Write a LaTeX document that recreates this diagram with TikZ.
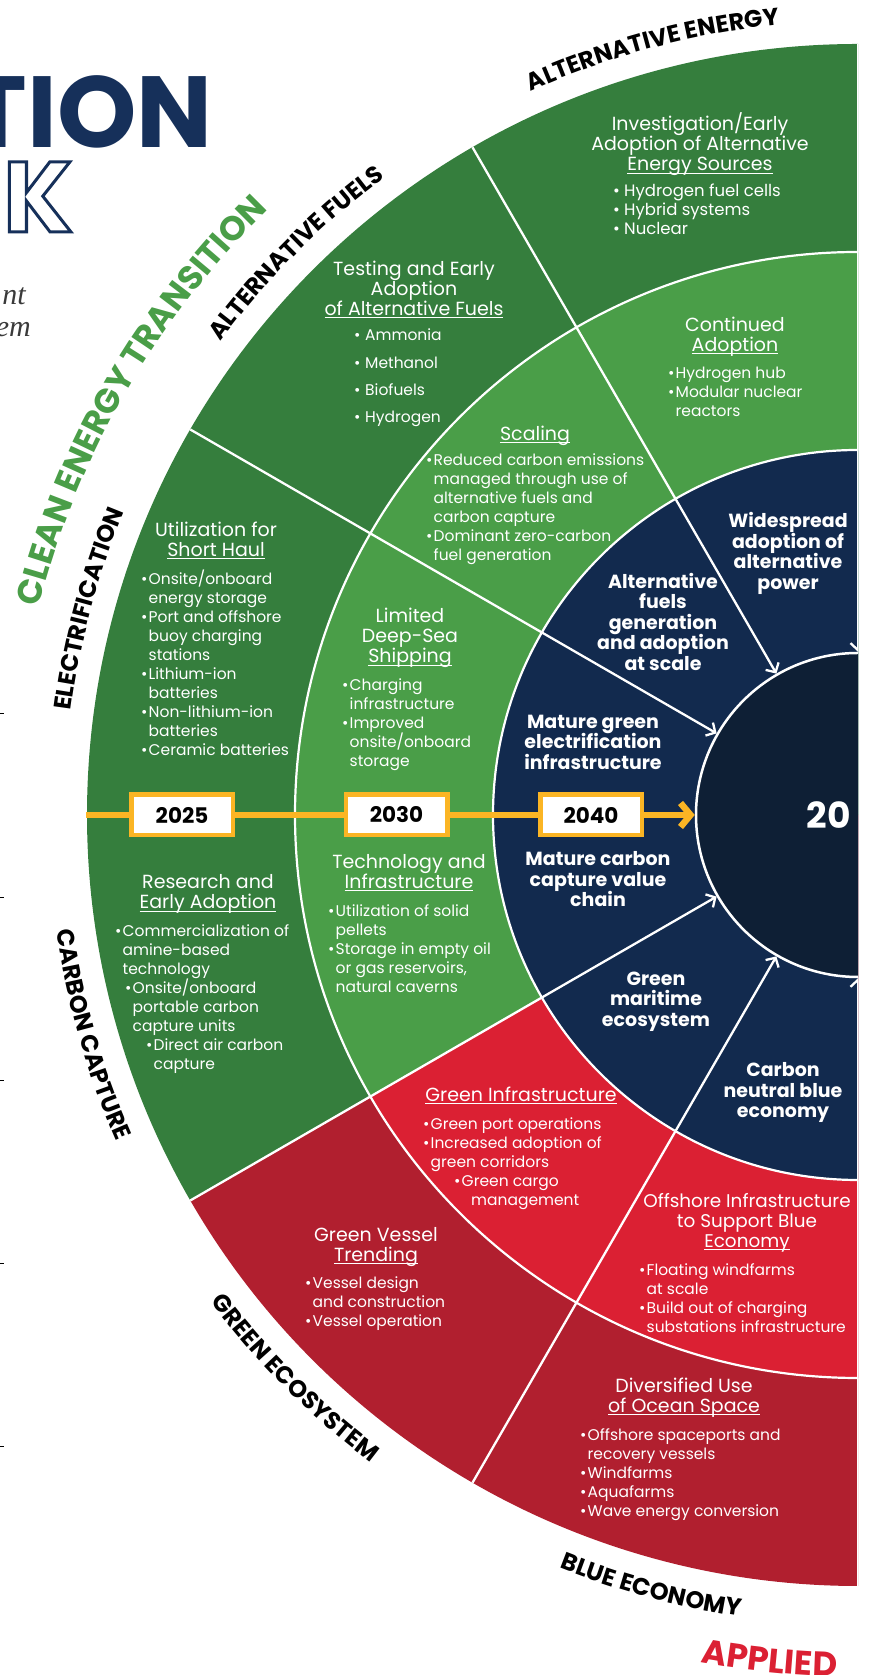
\documentclass[tikz,border=0pt]{standalone}
\usepackage{fontspec}
\setmainfont{Poppins}
\newfontfamily\serifit{Liberation Serif}
\usetikzlibrary{decorations.text,arrows.meta}
\definecolor{dkgreen}{HTML}{357E3D}
\definecolor{ltgreen}{HTML}{4A9E48}
\definecolor{navy}{HTML}{122A4E}
\definecolor{corenavy}{HTML}{0E1F35}
\definecolor{dkred}{HTML}{B11F2F}
\definecolor{brred}{HTML}{DB2033}
\definecolor{amber}{HTML}{FBB524}
\definecolor{titlenavy}{HTML}{16305A}
\definecolor{cleangreen}{HTML}{4A9E48}
\definecolor{subgray}{HTML}{3A3A3A}
\newcommand\uln[1]{\setbox0=\hbox{#1}\rlap{\rule[-3pt]{\wd0}{0.9pt}}\box0}
\newcommand\bul[1]{\makebox[7.5pt][l]{\textbullet}#1}
\newcommand\bulw[1]{\makebox[11pt][l]{\textbullet}#1}
\newcommand\ind{\hspace*{7.5pt}}
\newcommand\seclabfont{\color{black}\bfseries\fontsize{24}{28}\selectfont}
\newcommand\cleanfont{\color{cleangreen}\bfseries\fontsize{34}{38}\selectfont}
\newcommand\appliedfont{\color{brred}\bfseries\fontsize{34}{38}\selectfont}
\tikzset{
  ringsep/.style={white, line width=2.2pt},
  spoke/.style={white, line width=2.3pt, -{Straight Barb[length=7pt,width=15pt]}},
  tline/.style={amber, line width=6.5pt, -{Straight Barb[length=10pt,width=24pt]}},
  corecircle/.style={circle, fill=corenavy, draw=white, line width=2.5pt, minimum size=324pt, inner sep=0pt},
  yearbox/.style={draw=amber, line width=4.5pt, fill=white, minimum width=101.5pt, minimum height=40.5pt, inner sep=0pt, font=\bfseries\fontsize{21.5}{24}\selectfont, text=black},
  sectitle/.style={font=\fontsize{19}{20}\selectfont, text=white, align=center, inner sep=0pt, execute at begin node=\strut, execute at end node=\strut},
  seclist/.style={font=\fontsize{15.5}{19}\selectfont, text=white, align=left, inner sep=0pt, anchor=west, execute at begin node=\strut, execute at end node=\strut},
  goalbold/.style={font=\bfseries\fontsize{19}{20.5}\selectfont, text=white, align=center, inner sep=0pt, execute at begin node=\strut, execute at end node=\strut},
  arclabel/.style={decorate, decoration={text along path, text align=center, text={|\seclabfont|#1}}}
}
\begin{document}
\begin{tikzpicture}[x=1pt,y=1pt]
\useasboundingbox (0,0) rectangle (869,1675);
\begin{scope}
\clip (0,0) rectangle (858,1675);
% ---------- rings (centre at pixel 858,815) ----------
\begin{scope}[shift={(858,860)}]
  \fill[dkgreen] (0,0) -- (90:771) arc[start angle=90,end angle=210,radius=771] -- cycle;
  \fill[dkred] (0,0) -- (210:771) arc[start angle=210,end angle=270,radius=771] -- cycle;
  \fill[ltgreen] (0,0) -- (90:563) arc[start angle=90,end angle=210,radius=563] -- cycle;
  \fill[brred] (0,0) -- (210:563) arc[start angle=210,end angle=270,radius=563] -- cycle;
  \fill[navy] (0,0) -- (90:365) arc[start angle=90,end angle=270,radius=365] -- cycle;
  \draw[ringsep] (90:563) arc[start angle=90,end angle=270,radius=563];
  \draw[ringsep] (90:365) arc[start angle=90,end angle=270,radius=365];
  \node[corecircle] (core) at (0,0) {};
  \node[anchor=east, inner sep=0pt, text=white, font=\bfseries\fontsize{36}{40}\selectfont] (goalyear) at (-7,0) {20};
  \foreach \a in {90,120,150,210,240,270}{
    \coordinate (o\a) at (\a:771);
    \draw[spoke] (o\a) -- (core.\a);
  }
  \coordinate (t0) at (-772,0);
  \draw[tline] (t0) -- (core.west);
  % curved labels
  \path[arclabel={ALTERNATIVE ENERGY}] (130:794) arc[start angle=130,end angle=80,radius=794];
  \path[arclabel={ALTERNATIVE FUELS}] (160:794) arc[start angle=160,end angle=110,radius=794];
  \path[arclabel={ELECTRIFICATION}] (190:794) arc[start angle=190,end angle=140,radius=794];
  \path[arclabel={CARBON CAPTURE}] (171:810) arc[start angle=171,end angle=221,radius=810];
  \path[arclabel={GREEN ECOSYSTEM}] (200:810) arc[start angle=200,end angle=250,radius=810];
  \path[arclabel={BLUE ECONOMY}] (230:810) arc[start angle=230,end angle=280,radius=810];
  \path[decorate, decoration={text along path, text align=center, text={|\cleanfont|CLEAN ENERGY TRANSITION}}] (190:845) arc[start angle=190,end angle=110,radius=845];
  \path[decorate, decoration={text along path, text align=left, text={|\appliedfont|APPLIED}}] (259.5:862) arc[start angle=259.5,end angle=295,radius=862];
\end{scope}
% ---------- pixel frame (y down) ----------
\begin{scope}[shift={(0,1675)},yscale=-1]
  \node[yearbox] (y2025) at (182,815) {2025};
  \node[yearbox] (y2030) at (396.5,815) {2030};
  \node[yearbox] (y2040) at (591,815) {2040};
  % title fragments
  \node[anchor=base east, inner sep=0pt, text=titlenavy, font=\bfseries\fontsize{101}{101}\selectfont] (titleA) at (213,148) {TION};
  \node[anchor=base west, inner sep=0pt, font=\bfseries\fontsize{100}{100}\selectfont] (titleB) at (3,232) {\addfontfeature{FakeBold=3}\special{pdf:bcolor [1 1 1] [0.086 0.188 0.353]}K\special{pdf:ecolor}};
  \node[anchor=base east, inner sep=0pt, text=subgray, font=\serifit\itshape\fontsize{30}{30}\selectfont] (subA) at (26,305) {nt};
  \node[anchor=base east, inner sep=0pt, text=subgray, font=\serifit\itshape\fontsize{30}{30}\selectfont] (subB) at (31,337) {em};
  \foreach \t in {713,897,1080,1263,1446}{\draw[black, line width=0.8pt] (0,\t) -- (4,\t);}
  % outer ring
  \node[sectitle] (ae) at (700,145) {Investigation/Early\\Adoption of Alternative\\\uln{Energy Sources}};
  \node[seclist, font=\fontsize{16.5}{19}\selectfont] (aeb) at (613,212) {\bulw{Hydrogen fuel cells}\\\bulw{Hybrid systems}\\\bulw{Nuclear}};
  \node[sectitle] (af) at (414,291) {Testing and Early\\Adoption\\\uln{of Alternative Fuels}};
  \node[seclist, font=\fontsize{15.5}{27.3}\selectfont] (afb) at (354,380) {\bulw{Ammonia}\\\bulw{Methanol}\\\bulw{Biofuels}\\\bulw{Hydrogen}};
  \node[sectitle] (el) at (216,542) {Utilization for\\\uln{Short Haul}};
  \node[seclist] (elb) at (141,665.5) {\bul{Onsite/onboard}\\\ind energy storage\\\bul{Port and offshore}\\\ind buoy charging\\\ind stations\\\bul{Lithium-ion}\\\ind batteries\\\bul{Non-lithium-ion}\\\ind batteries\\\bul{Ceramic batteries}};
  \node[sectitle] (cc) at (208,894.5) {Research and\\\uln{Early Adoption}};
  \node[seclist] (ccb) at (115,999.5) {\bul{Commercialization of}\\\ind amine-based\\\ind technology\\\hspace*{10pt}\bul{Onsite/onboard}\\\hspace*{17.5pt}portable carbon\\\hspace*{17.5pt}capture units\\\hspace*{31pt}\bul{Direct air carbon}\\\hspace*{38.5pt}capture};
  \node[sectitle] (ge) at (376,1247) {Green Vessel\\\uln{Trending}};
  \node[seclist] (geb) at (305,1304) {\bul{Vessel design}\\\ind and construction\\\bul{Vessel operation}};
  \node[sectitle] (be) at (684,1398) {Diversified Use\\\uln{of Ocean Space}};
  \node[seclist] (beb) at (580,1475) {\bul{Offshore spaceports and}\\\ind recovery vessels\\\bul{Windfarms}\\\bul{Aquafarms}\\\bul{Wave energy conversion}};
  % middle ring
  \node[sectitle] (ca) at (735,337) {Continued\\\uln{Adoption}};
  \node[seclist] (cab) at (668,395) {\bul{Hydrogen hub}\\\bul{Modular nuclear}\\\ind reactors};
  \node[sectitle] (sc) at (535,436) {\uln{Scaling}};
  \node[seclist] (scb) at (426,510) {\bul{Reduced carbon emissions}\\\ind managed through use of\\\ind alternative fuels and\\\ind carbon capture\\\bul{Dominant zero-carbon}\\\ind fuel generation};
  \node[sectitle] (ld) at (410,638.5) {Limited\\Deep-Sea\\\uln{Shipping}};
  \node[seclist] (ldb) at (342,725) {\bul{Charging}\\\ind infrastructure\\\bul{Improved}\\\ind onsite/onboard\\\ind storage};
  \node[sectitle] (ti) at (409,874) {Technology and\\\uln{Infrastructure}};
  \node[seclist] (tib) at (328,951) {\bul{Utilization of solid}\\\ind pellets\\\bul{Storage in empty oil}\\\ind or gas reservoirs,\\\ind natural caverns};
  \node[sectitle] (gi) at (521,1097) {\uln{Green Infrastructure}};
  \node[seclist] (gib) at (423,1164) {\bul{Green port operations}\\\bul{Increased adoption of}\\\ind green corridors\\\hspace*{31pt}\bul{Green cargo}\\\hspace*{48pt}management};
  \node[sectitle, font=\fontsize{18.4}{20}\selectfont] (oi) at (747,1223) {Offshore Infrastructure\\to Support Blue\\\uln{Economy}};
  \node[seclist] (oib) at (639,1300.5) {\bul{Floating windfarms}\\\ind at scale\\\bul{Build out of charging}\\\ind substations infrastructure};
  % inner ring
  \node[goalbold] (g1) at (788,554) {Widespread\\adoption of\\alternative\\power};
  \node[goalbold] (g2) at (663,624.5) {Alternative\\fuels\\generation\\and adoption\\at scale};
  \node[goalbold] (g3) at (593,745) {Mature green\\electrification\\infrastructure};
  \node[goalbold] (g4) at (598,882.5) {Mature carbon\\capture value\\chain};
  \node[goalbold] (g5) at (656,1002) {Green\\maritime\\ecosystem};
  \node[goalbold] (g6) at (783,1093.5) {Carbon\\neutral blue\\economy};
\end{scope}
\end{scope}
\end{tikzpicture}
\end{document}
